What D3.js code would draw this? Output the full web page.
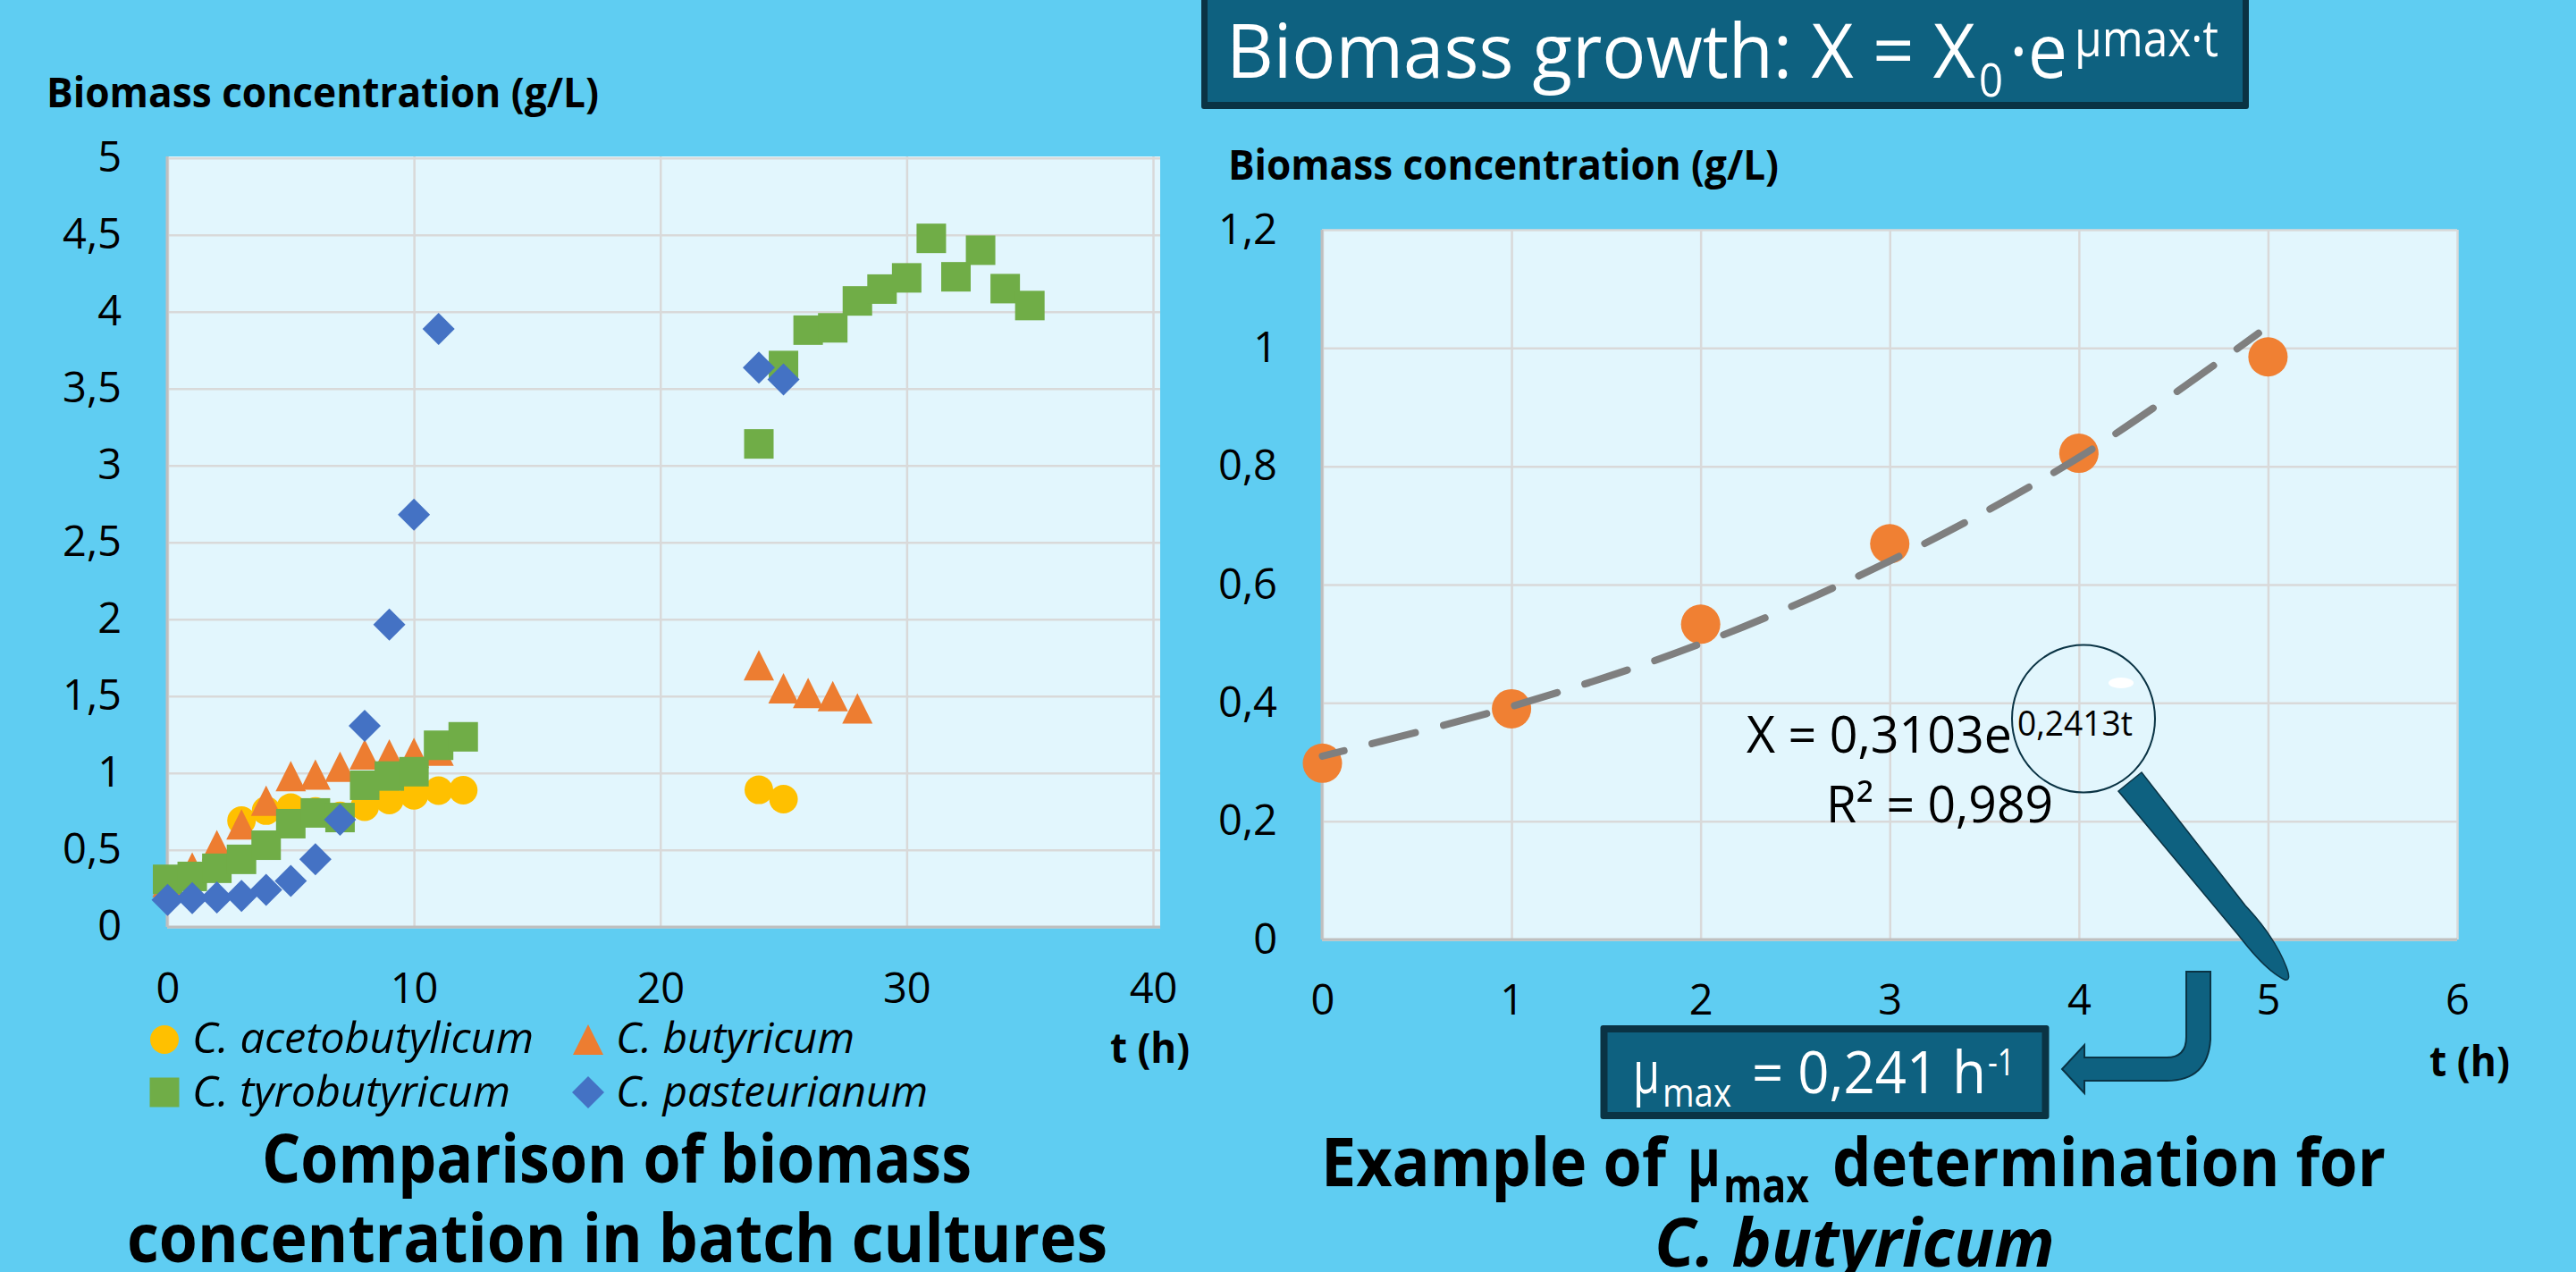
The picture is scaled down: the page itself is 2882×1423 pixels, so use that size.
<!DOCTYPE html>
<html>
<head>
<meta charset="utf-8">
<script src="https://cdn.jsdelivr.net/npm/d3@7"></script>
<style>
  html, body { margin: 0; padding: 0; background: #5fcdf2; overflow: hidden; }
  svg { display: block; }
  text { font-family: "Open Sans", sans-serif; fill: #000; }
</style>
</head>
<body>
<svg id="display"></svg>
<script>
// left chart, values
let xTicksLeft = [0, 10, 20, 30, 40]
let yTicksLeft = [0, 0.5, 1, 1.5, 2, 2.5, 3, 3.5, 4, 4.5, 5]

let acetoT = [0, 1, 2, 3, 4, 5, 6, 7, 8, 9, 10, 11, 12, 24, 25]
let acetoX = [0.27, 0.32, 0.42, 0.69, 0.755, 0.775, 0.75, 0.72, 0.78, 0.824, 0.855, 0.885, 0.888, 0.89, 0.83]

let butyT = [0, 1, 2, 3, 4, 5, 6, 7, 8, 9, 10, 11, 24, 25, 26, 27, 28]
let butyX = [0.29, 0.385, 0.53, 0.665, 0.82, 0.98, 0.99, 1.04, 1.12, 1.12, 1.13, 1.145, 1.7, 1.55, 1.52, 1.5, 1.42]

let tyroT = [0, 1, 2, 3, 4, 5, 6, 7, 8, 9, 10, 11, 12, 24, 25, 26, 27, 28, 29, 30, 31, 32, 33, 34, 35]
let tyroX = [0.308, 0.327, 0.38, 0.438, 0.53, 0.67, 0.74, 0.71, 0.92, 0.98, 1.008, 1.18, 1.235, 3.14, 3.65, 3.88, 3.895, 4.07, 4.147, 4.22, 4.477, 4.227, 4.4, 4.15, 4.04]

let pastT = [0, 1, 2, 3, 4, 5, 6, 7, 8, 9, 10, 11, 24, 25]
let pastX = [0.174, 0.186, 0.19, 0.2, 0.24, 0.297, 0.438, 0.696, 1.306, 1.965, 2.68, 3.888, 3.636, 3.56]

// right chart
let xTicksRight = [0, 1, 2, 3, 4, 5, 6]
let yTicksRight = [0, 0.2, 0.4, 0.6, 0.8, 1, 1.2]
let exampleT = [0, 1, 2, 3, 4, 5]
let exampleX = [0.298, 0.39, 0.533, 0.669, 0.822, 0.985]
let trendT = [0, 1, 2, 3, 4, 4.95]
let trendX = [0.31, 0.394, 0.5, 0.64, 0.815, 1.025]

let legendNames = ['C. acetobutylicum', 'C. butyricum', 'C. tyrobutyricum', 'C. pasteurianum']

let width = 2882
let height = 1423
let bg = '#5fcdf2'
let panelFill = '#e2f6fd'
let gridColor = '#d9d9d9'
let darkBlue = '#0e6180'
let darker = '#0a3344'
let yellow = '#ffc000'
let orange = '#ed7d31'
let green = '#70ad47'
let blue = '#4472c4'

let svg = d3.select('#display')
  .attr('width', width)
  .attr('height', height)

svg.append('rect')
  .attr('width', width)
  .attr('height', height)
  .attr('fill', bg)

function pairs(a, b) {
  return a.map((d, i) => [d, b[i]])
}

// text with a forced width, the original font is narrower than what we have
function label(x, y, str, size, opts) {
  opts = opts || {}
  let t = svg.append('text')
    .attr('x', x)
    .attr('y', y)
    .attr('font-size', size)
    .attr('font-weight', opts.bold ? 700 : 400)
    .attr('font-style', opts.italic ? 'italic' : 'normal')
    .style('fill', opts.fill || '#000')
    .text(str)
  if (opts.w) {
    t.attr('textLength', opts.w).attr('lengthAdjust', 'spacingAndGlyphs')
  }
  return t
}

// marker shapes drawn around 0,0
function marker(g, kind, color, cx, cy) {
  if (kind == 'circle') {
    g.append('circle').attr('cx', cx).attr('cy', cy).attr('r', 16).attr('fill', color)
  } else if (kind == 'triangle') {
    g.append('path').attr('d', 'M0,-17L17,17L-17,17Z').attr('transform', 'translate(' + cx + ',' + cy + ')').attr('fill', color)
  } else if (kind == 'square') {
    g.append('rect').attr('x', cx - 16.5).attr('y', cy - 16.5).attr('width', 33).attr('height', 33).attr('fill', color)
  } else {
    g.append('path').attr('d', 'M0,-18L18,0L0,18L-18,0Z').attr('transform', 'translate(' + cx + ',' + cy + ')').attr('fill', color)
  }
}

function commaFormat(d) {
  return String(d).replace('.', ',')
}

function drawPanel(box, xScale, yScale, xTicks, yTicks, padX, padY) {
  svg.append('rect')
    .attr('x', box.left)
    .attr('y', box.top)
    .attr('width', box.right - box.left)
    .attr('height', box.bottom - box.top)
    .attr('fill', panelFill)

  let xAxis = d3.axisBottom(xScale)
    .tickValues(xTicks)
    .tickSize(-(box.bottom - box.top))
    .tickPadding(padX)
    .tickFormat(commaFormat)
  let yAxis = d3.axisLeft(yScale)
    .tickValues(yTicks)
    .tickSize(-(box.right - box.left))
    .tickPadding(padY)
    .tickFormat(commaFormat)

  let gy = svg.append('g')
    .attr('transform', 'translate(' + box.left + ',0)')
    .call(yAxis)
  let gx = svg.append('g')
    .attr('transform', 'translate(0,' + box.bottom + ')')
    .call(xAxis)

  svg.selectAll('.domain').remove()
  ;[gx, gy].forEach((g) => {
    g.selectAll('line').attr('stroke', gridColor).attr('stroke-width', 2.5)
    g.selectAll('text').attr('font-size', 47).style('font-family', '"Open Sans"').attr('fill', '#000')
  })

  // axis lines
  svg.append('line')
    .attr('x1', box.left).attr('x2', box.left)
    .attr('y1', box.top).attr('y2', box.bottom)
    .attr('stroke', '#bfbfbf').attr('stroke-width', 3)
  svg.append('line')
    .attr('x1', box.left).attr('x2', box.right)
    .attr('y1', box.bottom).attr('y2', box.bottom)
    .attr('stroke', '#bfbfbf').attr('stroke-width', 3)
}

// ---- left chart ----
let boxLeft = { left: 187, right: 1298, top: 175, bottom: 1037 }
let xLeft = d3.scaleLinear().domain([0, 40]).range([187.5, 1290])
let yLeft = d3.scaleLinear().domain([0, 5]).range([1036.7, 176.7])

drawPanel(boxLeft, xLeft, yLeft, xTicksLeft, yTicksLeft, 52, 51)

let seriesLeft = [
  { kind: 'circle', color: yellow, pts: pairs(acetoT, acetoX) },
  { kind: 'triangle', color: orange, pts: pairs(butyT, butyX) },
  { kind: 'square', color: green, pts: pairs(tyroT, tyroX) },
  { kind: 'diamond', color: blue, pts: pairs(pastT, pastX) }
]

seriesLeft.forEach((s) => {
  let g = svg.append('g')
  s.pts.forEach((p) => marker(g, s.kind, s.color, xLeft(p[0]), yLeft(p[1])))
})

label(52, 120, 'Biomass concentration (g/L)', 46, { bold: true, w: 618 })
label(1242, 1189, 't (h)', 46, { bold: true, w: 89 })

// legend
let lg = svg.append('g')
marker(lg, 'circle', yellow, 184, 1163)
marker(lg, 'triangle', orange, 658, 1163)
marker(lg, 'square', green, 184, 1222)
marker(lg, 'diamond', blue, 658, 1222)
label(215, 1178, legendNames[0], 48, { italic: true, w: 382 })
label(689, 1178, legendNames[1], 48, { italic: true, w: 267 })
label(215, 1238, legendNames[2], 48, { italic: true, w: 356 })
label(689, 1238, legendNames[3], 48, { italic: true, w: 349 })

label(293, 1323, 'Comparison of biomass', 75, { bold: true, w: 794 })
label(142, 1412, 'concentration in batch cultures', 75, { bold: true, w: 1097 })

// ---- right chart ----
let boxRight = { left: 1479, right: 2749, top: 257, bottom: 1051 }
let xRight = d3.scaleLinear().domain([0, 6]).range([1479.5, 2749])
let yRight = d3.scaleLinear().domain([0, 1.2]).range([1051, 257])

drawPanel(boxRight, xRight, yRight, xTicksRight, yTicksRight, 51, 50)

let exampleG = svg.append('g')
pairs(exampleT, exampleX).forEach((p) => {
  exampleG.append('circle')
    .attr('cx', xRight(p[0]))
    .attr('cy', yRight(p[1]))
    .attr('r', 22)
    .attr('fill', '#f08033')
})

let trendLine = d3.line()
  .x((d) => xRight(d[0]))
  .y((d) => yRight(d[1]))
  .curve(d3.curveCatmullRom)

svg.append('path')
  .attr('d', trendLine(pairs(trendT, trendX)))
  .attr('fill', 'none')
  .attr('stroke', '#7f7f7f')
  .attr('stroke-width', 8)
  .attr('stroke-linecap', 'round')
  .attr('stroke-dasharray', '50 32.4')
  .attr('stroke-dashoffset', 25)

label(1374, 201, 'Biomass concentration (g/L)', 46, { bold: true, w: 616 })
label(2718, 1204, 't (h)', 46, { bold: true, w: 90 })

label(1954, 842, 'X = 0,3103e', 56, { w: 297 })
label(2257, 823, '0,2413t', 38, { w: 129 })
label(2043, 920, 'R² = 0,989', 56, { w: 254 })

// magnifier
svg.append('path')
  .attr('d', 'M2396,864L2370,885L2505,1047Q2535,1086 2556,1096Q2564,1098 2558,1082Q2545,1048 2512,1013Z')
  .attr('fill', darkBlue)
  .attr('stroke', darker)
  .attr('stroke-width', 1.5)
svg.append('ellipse')
  .attr('cx', 2331).attr('cy', 804).attr('rx', 80).attr('ry', 82.5)
  .attr('fill', 'none')
  .attr('stroke', darker)
  .attr('stroke-width', 2)
svg.append('ellipse')
  .attr('cx', 2373).attr('cy', 764).attr('rx', 14).attr('ry', 6)
  .attr('fill', '#fff')

// top banner
svg.append('rect')
  .attr('x', 1344).attr('y', -10).attr('width', 1172).attr('height', 132).attr('rx', 3)
  .attr('fill', darker)
svg.append('rect')
  .attr('x', 1351).attr('y', -10).attr('width', 1158).attr('height', 124)
  .attr('fill', darkBlue)
label(1372, 87, 'Biomass growth: X = X', 84, { fill: '#fff', w: 838 })
label(2214, 108, '0', 52, { fill: '#fff', w: 27 })
label(2248, 87, '·e', 84, { fill: '#fff', w: 65 })
label(2321, 63, 'µmax·t', 56, { fill: '#fff', w: 161 })

// bent arrow
svg.append('path')
  .attr('d', 'M2446,1087L2473,1087L2473,1163Q2470,1209 2424,1209L2332,1209L2332,1223L2307,1196L2332,1169L2332,1183L2424,1183Q2446,1183 2446,1160Z')
  .attr('fill', darkBlue)
  .attr('stroke', darker)
  .attr('stroke-width', 2)

// mu max box
svg.append('rect')
  .attr('x', 1790.5).attr('y', 1147).attr('width', 502).attr('height', 105).attr('rx', 3)
  .attr('fill', darker)
svg.append('rect')
  .attr('x', 1798.5).attr('y', 1155).attr('width', 486).attr('height', 89)
  .attr('fill', darkBlue)
label(1827, 1223, 'µ', 66, { fill: '#fff', w: 30 })
label(1860, 1238, 'max', 44, { fill: '#fff', w: 77 })
label(1960, 1223, '= 0,241 h', 66, { fill: '#fff', w: 262 })
label(2224, 1203, '-1', 42, { fill: '#fff', w: 30 })

// right title
label(1478, 1327, 'Example of', 75, { bold: true, w: 386 })
label(1888, 1327, 'µ', 75, { bold: true, w: 37 })
label(1928, 1345, 'max', 54, { bold: true, w: 96 })
label(2050, 1327, 'determination for', 75, { bold: true, w: 619 })
label(1851, 1417, 'C. butyricum', 75, { bold: true, italic: true, w: 448 })
</script>
</body>
</html>
